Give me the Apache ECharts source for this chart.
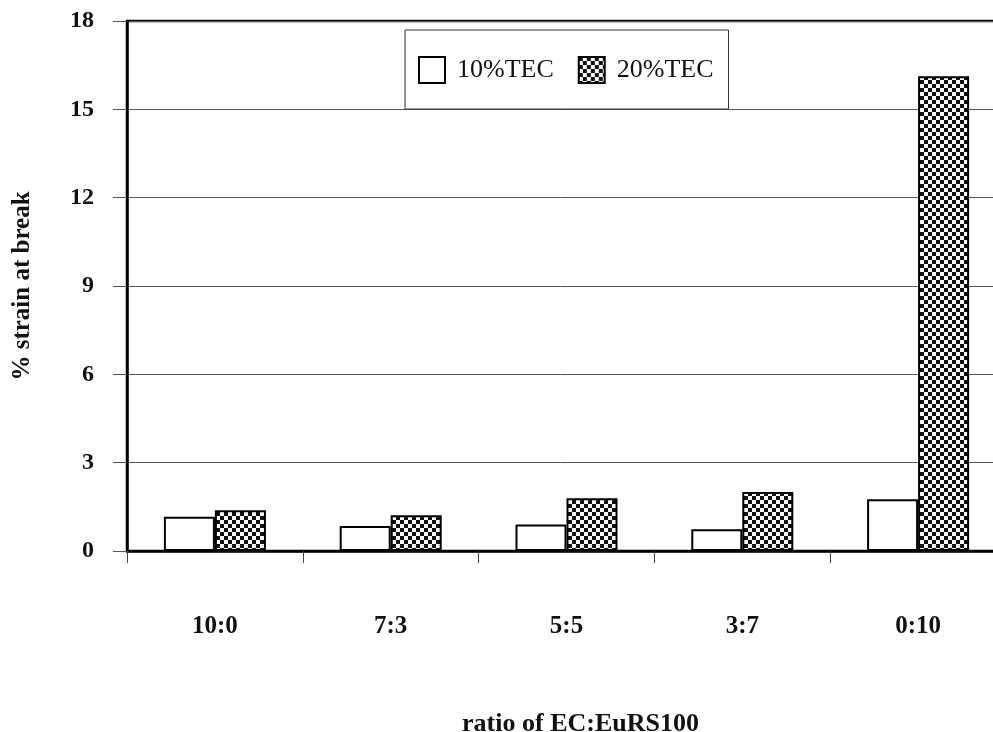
<!DOCTYPE html>
<html>
<head>
<meta charset="utf-8">
<script src="https://cdn.jsdelivr.net/npm/echarts@6/dist/echarts.min.js"></script>
<style>
html,body{margin:0;padding:0;background:#fff;}
#chart{width:993px;height:732px;}
</style>
</head>
<body>
<div id="chart"></div>
<script>
const categories = ['10:0', '7:3', '5:5', '3:7', '0:10'];
const tec10 = [1.16, 0.85, 0.90, 0.74, 1.76];
const tec20 = [1.38, 1.21, 1.79, 2.00, 16.12];
const seriesNames = ['10%TEC', '20%TEC'];
const yTicks = [0, 3, 6, 9, 12, 15, 18];

// checkerboard pattern
const pc = document.createElement('canvas');
pc.width = 8; pc.height = 8;
const ctx = pc.getContext('2d');
ctx.fillStyle = '#fff'; ctx.fillRect(0, 0, 8, 8);
ctx.fillStyle = '#111';
ctx.fillRect(0, 0, 4, 4);
ctx.fillRect(4, 4, 4, 4);

const serif = '"Liberation Serif", "Times New Roman", serif';
const chart = echarts.init(document.getElementById('chart'), null, {renderer: 'canvas'});
chart.setOption({
  animation: false,
  backgroundColor: '#fff',
  grid: {left: 127, top: 21, width: 879, bottom: 181, show: true, borderColor: '#000', borderWidth: 2.5, containLabel: false, outerBoundsMode: 'none'},
  legend: {
    left: 405, top: 30,
    padding: [26, 15, 25, 13],
    borderColor: '#333', borderWidth: 1,
    icon: 'rect',
    itemWidth: 26, itemHeight: 26, itemGap: 24,
    textStyle: {fontFamily: serif, fontSize: 26, color: '#111', padding: [0, 0, 0, 7], lineHeight: 27},
    data: seriesNames
  },
  xAxis: {
    type: 'category',
    data: categories,
    name: 'ratio of EC:EuRS100',
    nameLocation: 'middle',
    nameGap: 160,
    nameTextStyle: {fontFamily: serif, fontWeight: 'bold', fontSize: 26, color: '#111', padding: [0, 0, 0, 28]},
    axisLine: {lineStyle: {color: '#000', width: 2.5}},
    axisTick: {show: true, length: 12, lineStyle: {color: '#444', width: 1}},
    axisLabel: {fontFamily: serif, fontWeight: 'bold', fontSize: 25, color: '#111', margin: 63},
    splitLine: {show: false}
  },
  yAxis: {
    type: 'value',
    min: yTicks[0], max: yTicks[yTicks.length - 1], interval: 3,
    name: '% strain at break',
    nameLocation: 'middle',
    nameRotate: 90,
    nameGap: 92,
    nameTextStyle: {fontFamily: serif, fontWeight: 'bold', fontSize: 25, color: '#111'},
    axisLine: {show: true, lineStyle: {color: '#000', width: 2.5}},
    axisTick: {show: true, length: 14, lineStyle: {color: '#555', width: 1}},
    axisLabel: {fontFamily: serif, fontWeight: 'bold', fontSize: 24, color: '#111', margin: 33},
    splitLine: {show: true, lineStyle: {color: '#555', width: 1}}
  },
  series: [
    {
      name: seriesNames[0], type: 'bar', data: tec10,
      barWidth: 51, barGap: '0%',
      itemStyle: {color: '#fff', borderColor: '#000', borderWidth: 2}
    },
    {
      name: seriesNames[1], type: 'bar', data: tec20,
      barWidth: 51, barGap: '0%',
      itemStyle: {color: {image: pc, repeat: 'repeat'}, borderColor: '#000', borderWidth: 2}
    }
  ]
});
</script>
</body>
</html>
